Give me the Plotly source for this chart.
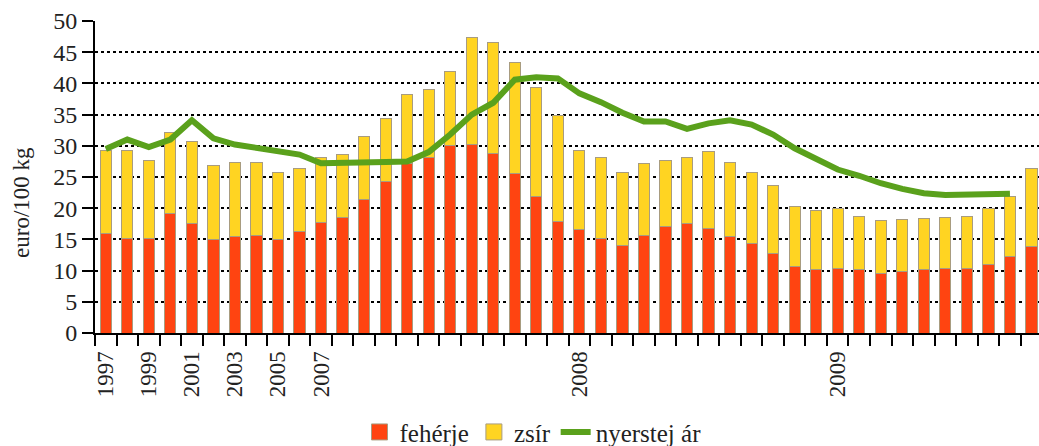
import plotly.graph_objects as go

periods = [str(y) for y in range(1997, 2007)] + \
    [f"2007-{m:02d}" for m in range(1, 13)] + \
    [f"2008-{m:02d}" for m in range(1, 13)] + \
    [f"2009-{m:02d}" for m in range(1, 11)]

tick_labels = ["1997", "", "1999", "", "2001", "", "2003", "", "2005", "",
               "2007", "", "", "", "", "", "", "", "", "", "", "",
               "2008", "", "", "", "", "", "", "", "", "", "", "",
               "2009", "", "", "", "", "", "", "", "", ""]

feherje = [15.9, 15.1, 15.2, 19.1, 17.6, 15.0, 15.4, 15.7, 15.0, 16.2,
           17.7, 18.5, 21.4, 24.3, 27.2, 28.1, 30.0, 30.2, 28.7, 25.5, 21.9, 17.8,
           16.6, 15.2, 14.0, 15.7, 17.0, 17.6, 16.8, 15.5, 14.3, 12.8, 10.7, 10.2,
           10.3, 10.1, 9.6, 9.9, 10.1, 10.3, 10.4, 10.9, 12.3, 13.9]

zsir = [13.4, 14.1, 12.5, 13.1, 13.1, 11.9, 12.0, 11.7, 10.8, 10.2,
        10.5, 10.1, 10.1, 10.1, 11.1, 11.0, 11.9, 17.1, 17.8, 17.8, 17.5, 17.1,
        12.7, 13.0, 11.8, 11.4, 10.6, 10.6, 12.3, 11.9, 11.5, 10.9, 9.6, 9.5,
        9.6, 8.5, 8.4, 8.3, 8.2, 8.2, 8.2, 9.1, 9.6, 12.4]

nyerstej = [29.5, 31.0, 29.8, 31.0, 34.1, 31.2, 30.2, 29.6, 29.1, 28.6,
            27.2, 27.2, 27.3, 27.4, 27.5, 29.0, 31.8, 35.0, 36.9, 40.6, 41.0, 40.8,
            38.4, 37.0, 35.3, 33.9, 33.9, 32.7, 33.6, 34.1, 33.4, 31.8, 29.6, 27.8,
            26.2, 25.2, 24.0, 23.1, 22.4, 22.1, 22.1, 22.3, 22.3, None]

FONT = "Liberation Serif"
TXT = "#222"
RED = "#FF4411"
YELLOW = "#FFD422"
GREEN = "#5AA11C"
EDGE = "#A89C80"

fig = go.Figure()
fig.add_trace(go.Bar(x=periods, y=feherje, name="fehérje", showlegend=False,
                     marker=dict(color=RED, line=dict(color=EDGE, width=1))))
fig.add_trace(go.Bar(x=periods, y=zsir, name="zsír", showlegend=False,
                     marker=dict(color=YELLOW, line=dict(color=EDGE, width=1))))
fig.add_trace(go.Scatter(x=periods, y=nyerstej, name="nyerstej ár", mode="lines",
                         showlegend=False, line=dict(color=GREEN, width=6)))
# legend entries
fig.add_trace(go.Scatter(x=[None], y=[None], name="fehérje", mode="markers",
                         marker=dict(symbol="square", size=18, color=RED,
                                     line=dict(color=EDGE, width=1))))
fig.add_trace(go.Scatter(x=[None], y=[None], name="zsír", mode="markers",
                         marker=dict(symbol="square", size=18, color=YELLOW,
                                     line=dict(color=EDGE, width=1))))
fig.add_trace(go.Scatter(x=[None], y=[None], name="nyerstej ár", mode="lines",
                         line=dict(color=GREEN, width=6)))

fig.update_layout(
    barmode="stack", bargap=0.48,
    width=1039, height=446,
    margin=dict(l=95, r=0, t=21, b=113, autoexpand=False),
    plot_bgcolor="white", paper_bgcolor="white",
    font=dict(family=FONT, size=23, color=TXT),
    legend=dict(orientation="h", xref="container", yref="container",
                x=0.513, xanchor="center", y=0.031, yanchor="middle",
                font=dict(family=FONT, size=25, color=TXT), traceorder="normal",
                itemwidth=30, itemclick=False),
    xaxis=dict(type="category", tickmode="array", tickvals=periods, ticktext=tick_labels,
               tickangle=-90, tickson="boundaries", ticks="outside", ticklen=11,
               tickwidth=2, tickcolor="black", showline=True, linecolor="black",
               linewidth=2, showgrid=False, range=[-0.5, 43.35], automargin=False,
               ticklabelstandoff=7,
               tickfont=dict(family=FONT, size=23, color=TXT)),
    yaxis=dict(range=[0, 50], dtick=5, ticks="outside", ticklen=11, tickwidth=2,
               tickcolor="black", showline=True, linecolor="black", linewidth=2,
               showgrid=True, gridcolor="black", gridwidth=2, griddash="3px,3px",
               zeroline=False, automargin=False,
               tickfont=dict(family=FONT, size=24, color=TXT)),
    annotations=[dict(text="euro/100 kg", xref="paper", yref="paper",
                      x=-0.0773, y=0.417, xanchor="center", yanchor="middle",
                      textangle=-90, showarrow=False,
                      font=dict(family=FONT, size=23, color=TXT))],
)

fig.write_html("out.html", config={"displayModeBar": False},
               post_script="document.body.style.margin='0';")
